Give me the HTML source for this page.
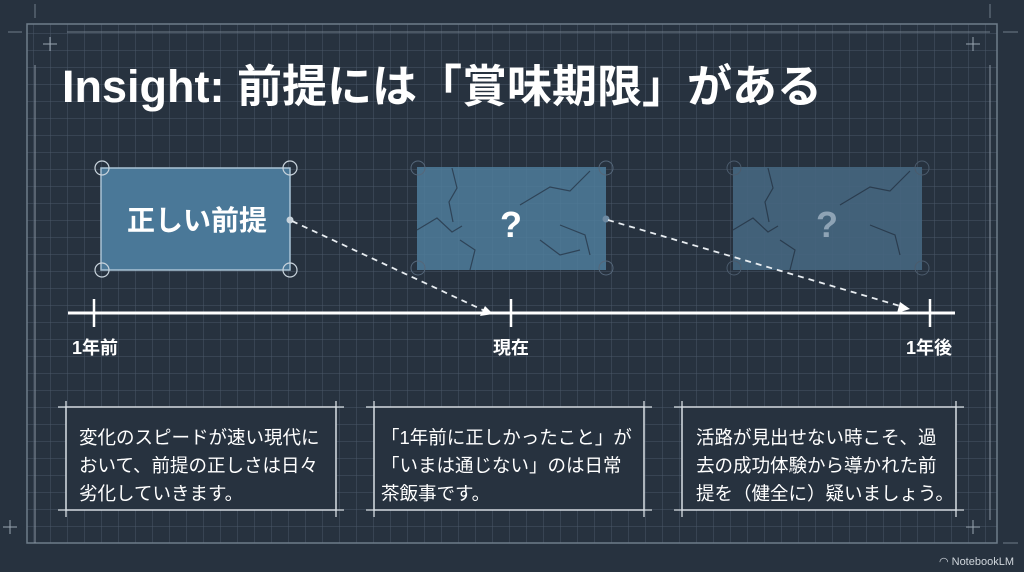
<!DOCTYPE html>
<html><head><meta charset="utf-8"><style>
html,body{margin:0;padding:0;background:#27323f;}
svg{display:block}
text{font-family:"Liberation Sans","Noto Sans CJK JP",sans-serif;fill:#fff}
</style></head><body>
<svg width="1024" height="572" viewBox="0 0 1024 572" xmlns="http://www.w3.org/2000/svg">
<defs>
<pattern id="g" x="0" y="0" width="17" height="17" patternUnits="userSpaceOnUse">
<path d="M17 0V17M0 17H17" stroke="#4a5767" stroke-width="1" fill="none"/>
</pattern>
</defs>
<rect width="1024" height="572" fill="#27323f"/>
<rect x="27" y="24" width="970" height="519" fill="url(#g)"/>
<rect x="27" y="24" width="970" height="519" fill="none" stroke="#6f7c8a" stroke-width="1.5"/>
<line x1="35" y1="65" x2="35" y2="543" stroke="#8894a0" stroke-width="1"/>
<line x1="67" y1="32" x2="990" y2="32" stroke="#6f7c8a"/>
<line x1="990" y1="65" x2="990" y2="520" stroke="#8894a0"/>
<line x1="35" y1="4" x2="35" y2="18" stroke="#6f7c8a"/>
<line x1="8" y1="32" x2="22" y2="32" stroke="#6f7c8a"/>
<line x1="990" y1="4" x2="990" y2="18" stroke="#6f7c8a"/>
<line x1="1003" y1="32" x2="1018" y2="32" stroke="#6f7c8a"/>
<line x1="43" y1="44" x2="57" y2="44" stroke="#9aa5b0"/><line x1="50" y1="37" x2="50" y2="51" stroke="#9aa5b0"/>
<line x1="966" y1="44" x2="980" y2="44" stroke="#9aa5b0"/><line x1="973" y1="37" x2="973" y2="51" stroke="#9aa5b0"/>
<line x1="3" y1="527" x2="17" y2="527" stroke="#9aa5b0"/><line x1="10" y1="520" x2="10" y2="534" stroke="#9aa5b0"/>
<line x1="966" y1="527" x2="980" y2="527" stroke="#9aa5b0"/><line x1="973" y1="520" x2="973" y2="534" stroke="#9aa5b0"/>
<line x1="1003" y1="543" x2="1018" y2="543" stroke="#6f7c8a"/>

<text x="62" y="102" font-size="45" font-weight="bold">Insight: 前提には「賞味期限」がある</text>

<!-- box1 -->
<rect x="101" y="168" width="189" height="102" fill="#4a7898" stroke="#a9c3d6" stroke-width="1.5"/>
<g fill="none" stroke="#c8d3dc" stroke-width="1.2">
<circle cx="102" cy="168" r="7"/><circle cx="290" cy="168" r="7"/><circle cx="102" cy="270" r="7"/><circle cx="290" cy="270" r="7"/>
</g>
<text x="197" y="230" font-size="28" font-weight="bold" text-anchor="middle">正しい前提</text>
<circle cx="290" cy="220" r="3.5" fill="#c8d3dc"/>

<!-- box2 -->
<rect x="417" y="167" width="189" height="103" fill="#4f7c9b" fill-opacity="0.85"/>
<g fill="none" stroke="#2e4357" stroke-width="1.2">
<path d="M452 168 l5 20 -8 14 4 20"/><path d="M417 230 l20 -12 15 14 10 -6"/><path d="M520 205 l30 -18 20 4 20 -20"/><path d="M560 225 l25 10 5 20"/><path d="M470 270 l5 -20 -15 -10"/><path d="M540 240 l20 15 20 -5"/>
</g>
<g fill="none" stroke="#55677a" stroke-width="1">
<circle cx="418" cy="168" r="7"/><circle cx="606" cy="168" r="7"/><circle cx="418" cy="268" r="7"/><circle cx="606" cy="268" r="7"/>
</g>
<text x="511" y="237" font-size="36" font-weight="bold" text-anchor="middle">?</text>
<circle cx="606" cy="219" r="3.5" fill="#6e8aa2"/>

<!-- box3 -->
<rect x="733" y="167" width="189" height="103" fill="#46667f" fill-opacity="0.9"/>
<g fill="none" stroke="#2a3c4e" stroke-width="1.2">
<path d="M768 168 l5 20 -8 14 4 20"/><path d="M733 230 l20 -12 15 14 10 -6"/><path d="M840 205 l30 -18 20 4 20 -20"/><path d="M870 225 l25 10 5 20"/><path d="M790 270 l5 -20 -15 -10"/>
</g>
<g fill="none" stroke="#4b5b6c" stroke-width="1">
<circle cx="734" cy="168" r="7"/><circle cx="922" cy="168" r="7"/><circle cx="734" cy="268" r="7"/><circle cx="922" cy="268" r="7"/>
</g>
<text x="827" y="237" font-size="36" font-weight="bold" text-anchor="middle" style="fill:#8ea3b5">?</text>

<!-- arrows -->
<line x1="292" y1="221" x2="485" y2="311" stroke="#e8edf1" stroke-width="1.8" stroke-dasharray="6,5"/>
<path d="M493 314 L480 316 L485 306 Z" fill="#fff"/>
<line x1="608" y1="220" x2="900" y2="306" stroke="#e8edf1" stroke-width="1.8" stroke-dasharray="6,5"/>
<path d="M910 309 L897 313 L900 302 Z" fill="#fff"/>

<!-- timeline -->
<line x1="68" y1="313" x2="955" y2="313" stroke="#fff" stroke-width="3"/>
<line x1="94" y1="299" x2="94" y2="327" stroke="#fff" stroke-width="2.5"/>
<line x1="511" y1="299" x2="511" y2="327" stroke="#fff" stroke-width="2.5"/>
<line x1="930" y1="299" x2="930" y2="327" stroke="#fff" stroke-width="2.5"/>
<text x="95" y="354" font-size="18" font-weight="bold" text-anchor="middle">1年前</text>
<text x="511" y="354" font-size="18" font-weight="bold" text-anchor="middle">現在</text>
<text x="929" y="354" font-size="18" font-weight="bold" text-anchor="middle">1年後</text>

<!-- text boxes -->
<g stroke="#d8dee4" stroke-width="1.3" fill="none">
<rect x="66" y="407" width="270" height="103" fill="#27323f"/>
<line x1="58" y1="407" x2="344" y2="407"/><line x1="58" y1="510" x2="344" y2="510"/>
<line x1="66" y1="401" x2="66" y2="517"/><line x1="336" y1="401" x2="336" y2="517"/>
<rect x="374" y="407" width="270" height="103" fill="#27323f"/>
<line x1="366" y1="407" x2="652" y2="407"/><line x1="366" y1="510" x2="652" y2="510"/>
<line x1="374" y1="401" x2="374" y2="517"/><line x1="644" y1="401" x2="644" y2="517"/>
<rect x="682" y="407" width="274" height="103" fill="#27323f"/>
<line x1="674" y1="407" x2="964" y2="407"/><line x1="674" y1="510" x2="964" y2="510"/>
<line x1="682" y1="401" x2="682" y2="517"/><line x1="956" y1="401" x2="956" y2="517"/>
</g>
<g font-size="18.5">
<text x="79" y="444">変化のスピードが速い現代に</text>
<text x="79" y="472">おいて、前提の正しさは日々</text>
<text x="79" y="500">劣化していきます。</text>
<text x="381" y="444">「1年前に正しかったこと」が</text>
<text x="381" y="472">「いまは通じない」のは日常</text>
<text x="381" y="500">茶飯事です。</text>
<text x="696" y="444">活路が見出せない時こそ、過</text>
<text x="696" y="472">去の成功体験から導かれた前</text>
<text x="696" y="500">提を（健全に）疑いましょう。</text>
</g>
<text x="1014" y="565" font-size="11" text-anchor="end" style="fill:#d0d6dc">◠ NotebookLM</text>
</svg>
</body></html>
